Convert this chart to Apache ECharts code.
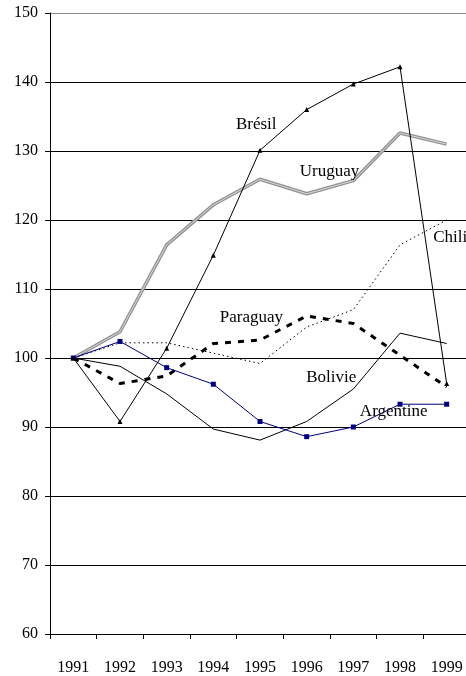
<!DOCTYPE html>
<html>
<head>
<meta charset="utf-8">
<script src="https://cdn.jsdelivr.net/npm/echarts@6/dist/echarts.min.js"></script>
<style>
  html, body { margin: 0; padding: 0; background: #fff; }
  #chart { width: 466px; height: 676px; }
</style>
</head>
<body>
<div id="chart"></div>
<script>
// Years on the category axis
const years = ['1991', '1992', '1993', '1994', '1995', '1996', '1997', '1998', '1999'];

// Index values (1991 = 100)
const bresil    = [100, 90.8, 101.4, 114.9, 130.1, 136.0, 139.7, 142.2, 96.3];
const uruguay   = [100, 103.8, 116.4, 122.2, 125.9, 123.8, 125.7, 132.6, 131.0];
const chili     = [100, 102.2, 102.2, 100.7, 99.2, 104.5, 107.0, 116.4, 120.0];
const paraguay  = [100, 96.3, 97.4, 102.1, 102.6, 106.1, 105.0, 100.4, 95.8];
const bolivie   = [100, 98.8, 94.8, 89.7, 88.1, 90.8, 95.5, 103.6, 102.1];
const argentine = [100, 102.4, 98.6, 96.2, 90.8, 88.6, 90.0, 93.3, 93.3];

// Value axis range
const yMin = 60;
const yMax = 150;
const yStep = 10;

// Series name labels, anchored in data space: [text, year index, value, align]
const nameLabels = [
  ['Brésil',    3.92, 133.9, 'center'],
  ['Uruguay',   5.49, 127.0, 'center'],
  ['Chili',     7.71, 117.5, 'left'],
  ['Paraguay',  3.14, 105.8, 'left'],
  ['Bolivie',   4.99,  97.1, 'left'],
  ['Argentine', 6.14,  92.2, 'left']
];

const FONT = '"Liberation Serif", "Times New Roman", serif';

const chart = echarts.init(document.getElementById('chart'), null, { renderer: 'canvas' });

// Grid line colours from bottom (60) to top (150): the top line is lighter
const gridColors = [];
for (let v = yMin; v <= yMax; v += yStep) gridColors.push(v === yMax ? '#8a8a8a' : '#000');

chart.setOption({
  backgroundColor: '#fff',
  animation: false,
  // the plot runs a little past the right edge of the page
  grid: {
    left: 50, top: 13, width: 420, height: 621,
    containLabel: false,
    outerBoundsMode: 'none'
  },
  xAxis: {
    type: 'category',
    data: years,
    boundaryGap: true,
    axisLine: { lineStyle: { color: '#000', width: 1 } },
    axisTick: { show: true, length: 5, lineStyle: { color: '#000' } },
    axisLabel: { color: '#000', fontFamily: FONT, fontSize: 16, margin: 26, interval: 0 },
    splitLine: { show: false }
  },
  yAxis: {
    type: 'value',
    min: yMin,
    max: yMax,
    interval: yStep,
    axisLine: { show: true, lineStyle: { color: '#000', width: 1 } },
    axisTick: { show: true, length: 5, lineStyle: { color: '#000' } },
    axisLabel: { color: '#000', fontFamily: FONT, fontSize: 16, margin: 12 },
    splitLine: { show: true, lineStyle: { color: gridColors, width: 1 } }
  },
  series: [
    {
      name: 'Uruguay',
      type: 'line',
      data: uruguay,
      symbol: 'none',
      lineStyle: { color: '#939393', width: 3.5 },
      z: 2
    },
    {
      name: 'Uruguay (trait clair)',
      type: 'line',
      data: uruguay,
      symbol: 'none',
      lineStyle: { color: '#d8d8d8', width: 1 },
      z: 3
    },
    {
      name: 'Chili',
      type: 'line',
      data: chili,
      symbol: 'none',
      lineStyle: { color: '#000', width: 1, type: [1.5, 3] },
      z: 3
    },
    {
      name: 'Paraguay',
      type: 'line',
      data: paraguay,
      symbol: 'none',
      lineStyle: { color: '#000', width: 3, type: [6, 7] },
      z: 4
    },
    {
      name: 'Bolivie',
      type: 'line',
      data: bolivie,
      symbol: 'none',
      lineStyle: { color: '#000', width: 1 },
      z: 4
    },
    {
      name: 'Argentine',
      type: 'line',
      data: argentine,
      symbol: 'rect',
      symbolSize: 5,
      showAllSymbol: true,
      itemStyle: { color: '#000080' },
      lineStyle: { color: '#000080', width: 1 },
      z: 5
    },
    {
      name: 'Brésil',
      type: 'line',
      data: bresil,
      symbol: 'triangle',
      symbolSize: 5,
      showAllSymbol: true,
      itemStyle: { color: '#000' },
      lineStyle: { color: '#000', width: 1 },
      z: 6
    }
  ]
});

// Pixel position for a fractional category index: interpolate between neighbouring categories
function toPixel(idx, val) {
  const i0 = Math.floor(idx);
  const i1 = Math.min(i0 + 1, years.length - 1);
  const a = chart.convertToPixel({ gridIndex: 0 }, [i0, val]);
  const b = chart.convertToPixel({ gridIndex: 0 }, [i1, val]);
  const t = idx - i0;
  return [a[0] + (b[0] - a[0]) * t, a[1]];
}

// Place the series names
const graphics = nameLabels.map(([text, idx, val, align]) => {
  const p = toPixel(idx, val);
  return {
    type: 'text',
    x: p[0],
    y: p[1],
    z: 100,
    style: {
      text: text,
      fill: '#000',
      font: '17px ' + FONT,
      textAlign: align,
      textVerticalAlign: 'middle'
    }
  };
});
chart.setOption({ graphic: graphics });
</script>
</body>
</html>
